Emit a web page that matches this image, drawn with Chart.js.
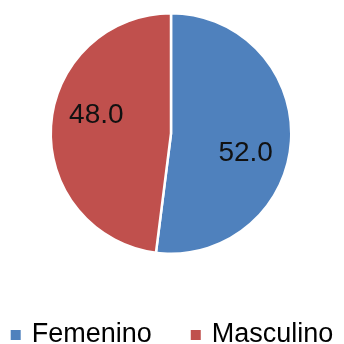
<!DOCTYPE html>
<html>
<head>
<meta charset="utf-8">
<script src="https://cdn.jsdelivr.net/npm/chart.js@4/dist/chart.umd.min.js"></script>
<style>
  html, body { margin: 0; padding: 0; background: #fff; }
  #wrap { width: 344px; height: 344px; }
</style>
</head>
<body>
<div id="wrap"><canvas id="pie"></canvas></div>
<script>
const categories = ['Femenino', 'Masculino'];
const values = [52.0, 48.0];
const colors = ['#4F81BD', '#C0504D'];

const FONT = '"Liberation Sans", Arial, sans-serif';

// value labels inside each slice, nudged a bit clockwise like the office default
const sliceLabels = {
  id: 'sliceLabels',
  afterDatasetsDraw(chart) {
    const ctx = chart.ctx;
    const meta = chart.getDatasetMeta(0);
    ctx.save();
    ctx.font = '28px ' + FONT;
    ctx.fillStyle = '#111';
    ctx.textAlign = 'center';
    ctx.textBaseline = 'middle';
    meta.data.forEach((arc, i) => {
      const p = arc.getProps(['x', 'y', 'startAngle', 'endAngle', 'outerRadius']);
      const mid = (p.startAngle + p.endAngle) / 2 + 10.5 * Math.PI / 180;
      const r = p.outerRadius * 0.64;
      ctx.fillText(values[i].toFixed(1), p.x + Math.cos(mid) * r, p.y + Math.sin(mid) * r + 1);
    });
    ctx.restore();
  }
};

// legend row under the pie: small square + name
const bottomLegend = {
  id: 'bottomLegend',
  afterDraw(chart) {
    const ctx = chart.ctx;
    const box = 10, gap = 11, itemGap = 39, y = 335;
    ctx.save();
    ctx.font = '27px ' + FONT;
    ctx.textBaseline = 'middle';
    ctx.textAlign = 'left';
    const widths = categories.map(c => ctx.measureText(c).width);
    const total = widths.reduce((s, w) => s + box + gap + w, 0) + itemGap * (categories.length - 1);
    let x = (chart.width - total) / 2;
    categories.forEach((c, i) => {
      ctx.fillStyle = colors[i];
      ctx.fillRect(x, y - box / 2, box, box);
      ctx.fillStyle = '#000';
      ctx.fillText(c, x + box + gap, y);
      x += box + gap + widths[i] + itemGap;
    });
    ctx.restore();
  }
};

new Chart(document.getElementById('pie'), {
  type: 'pie',
  data: {
    labels: categories,
    datasets: [{
      data: values,
      backgroundColor: colors,
      borderColor: '#fff',
      borderWidth: 2.5
    }]
  },
  options: {
    responsive: true,
    maintainAspectRatio: false,
    animation: false,
    layout: { padding: { top: 12, bottom: 89, left: 0, right: 2 } },
    plugins: {
      legend: { display: false },
      tooltip: { enabled: false }
    }
  },
  plugins: [sliceLabels, bottomLegend]
});
</script>
</body>
</html>
